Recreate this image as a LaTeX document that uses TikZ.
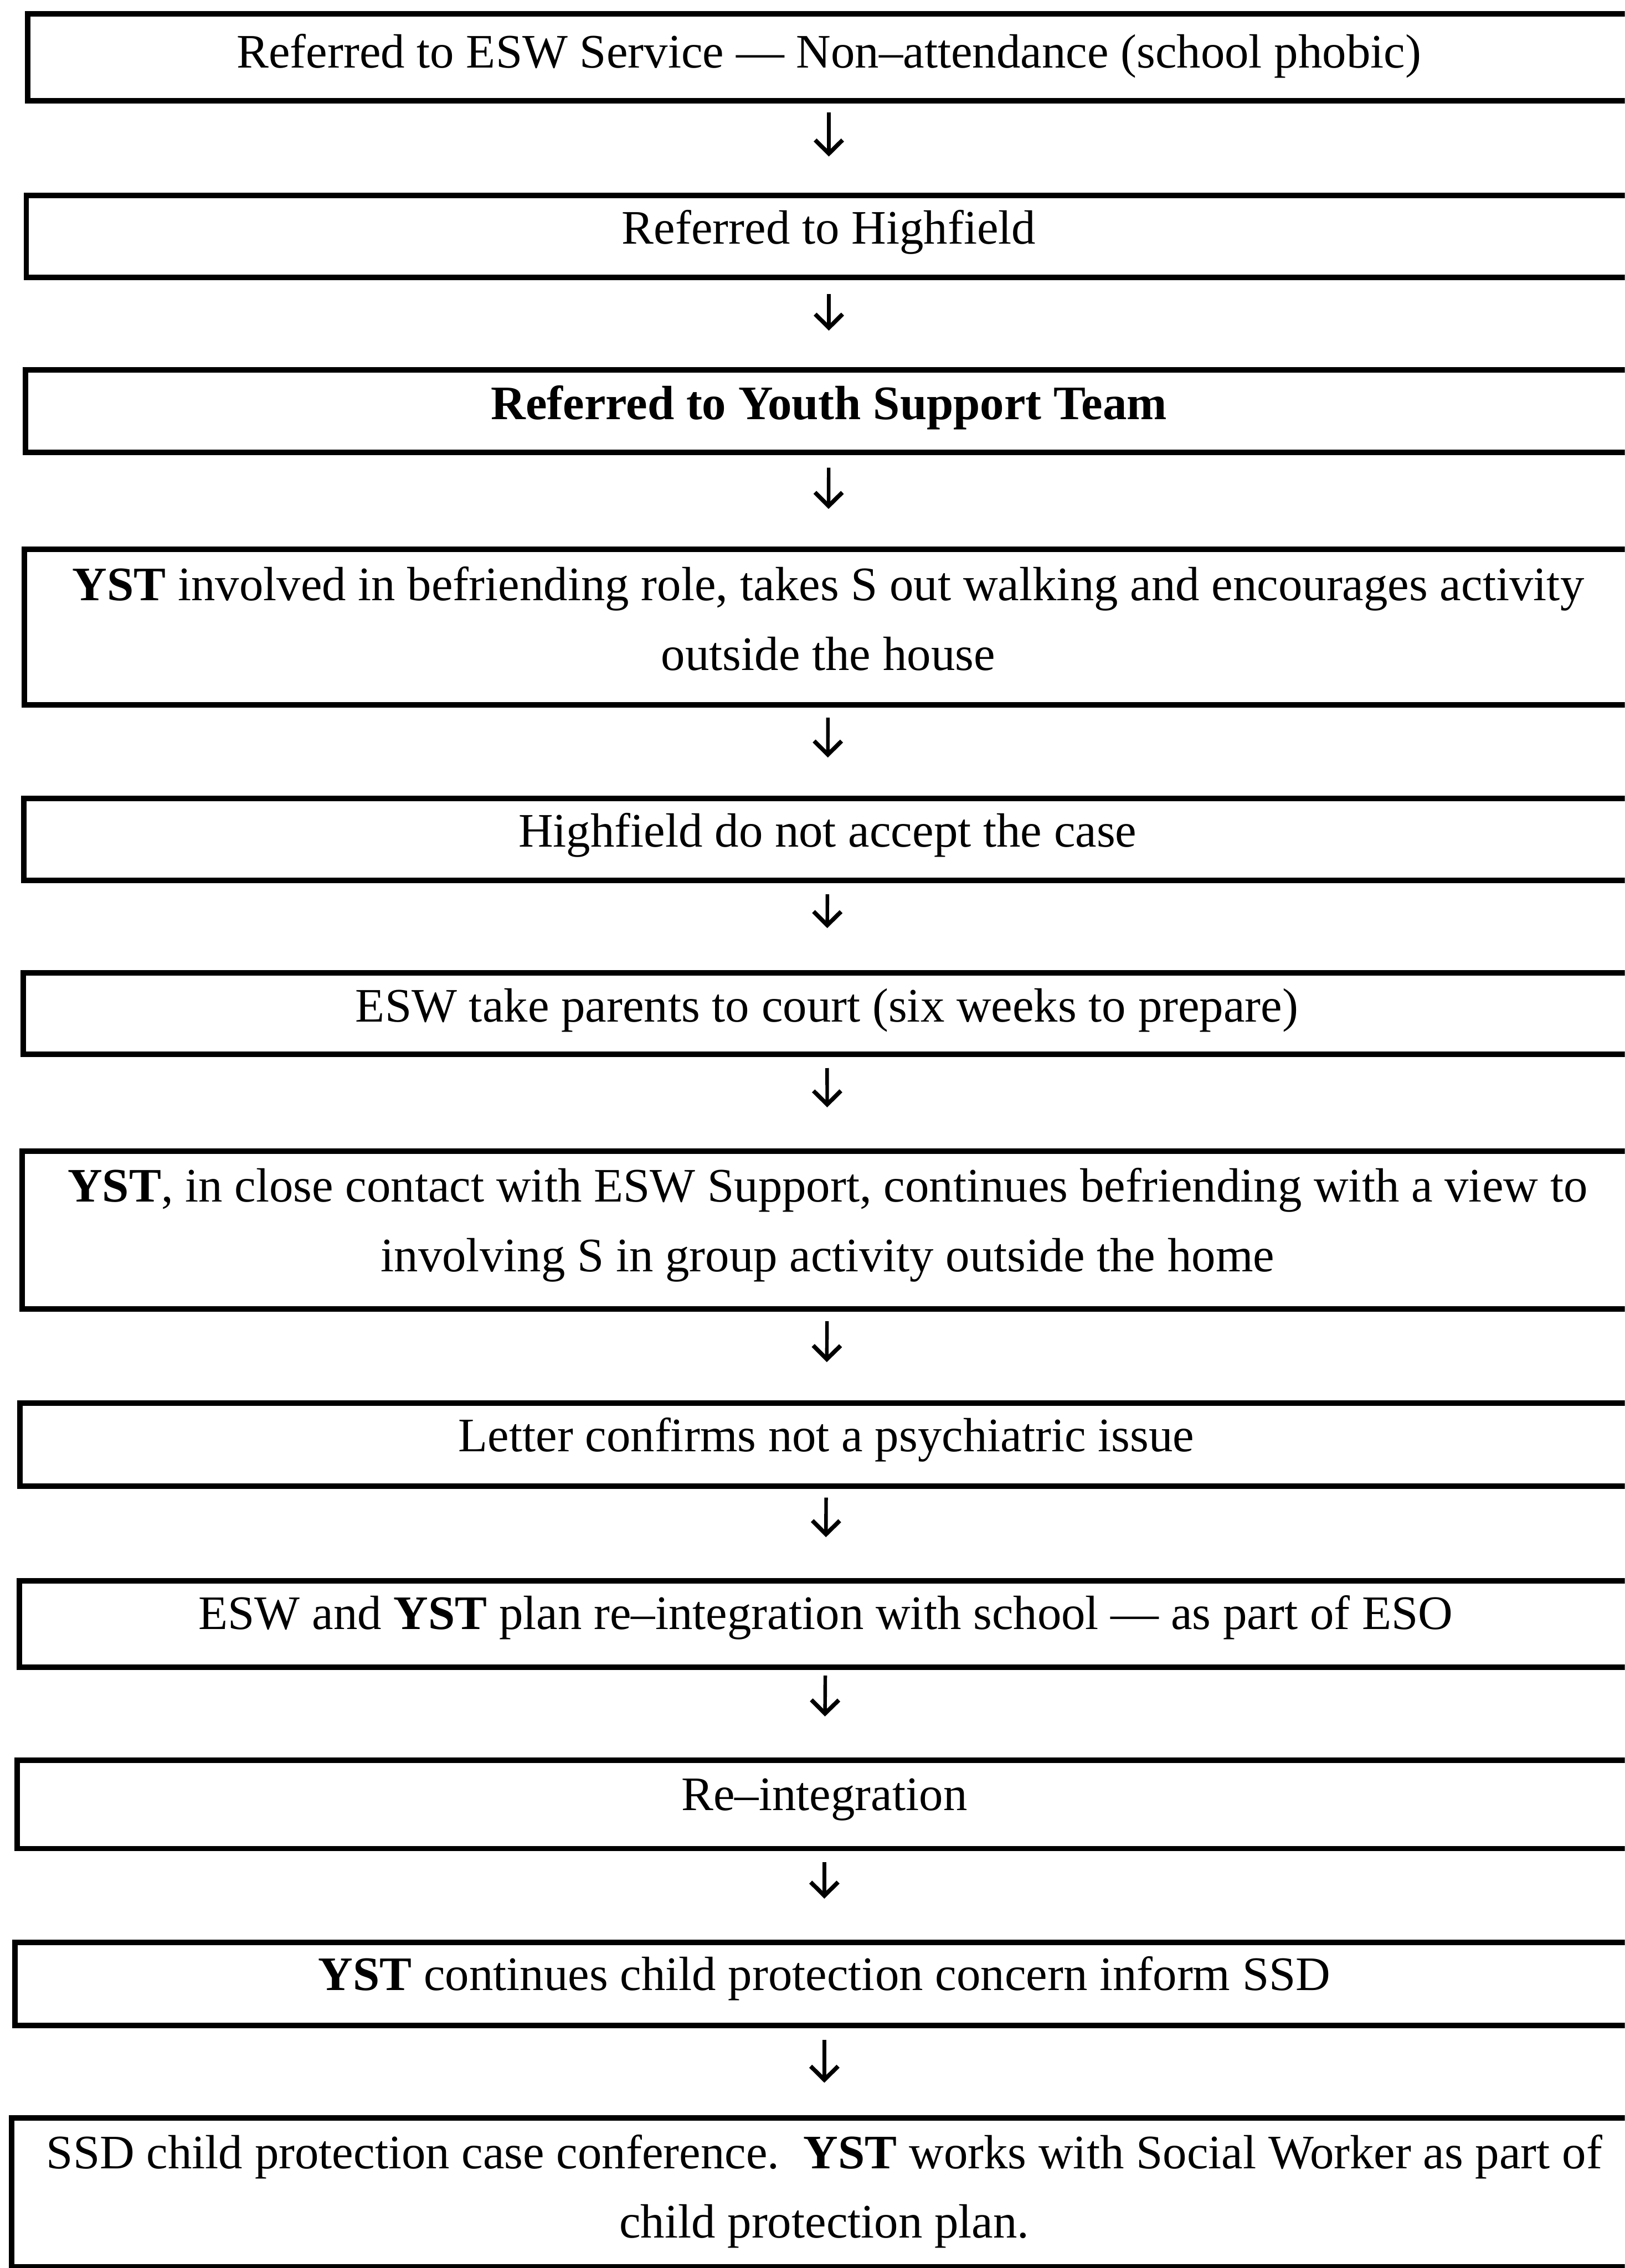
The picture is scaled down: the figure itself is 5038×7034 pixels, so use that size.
\documentclass[tikz,border=0pt]{standalone}
\usepackage{fontspec}
\setmainfont{Liberation Serif}
\usetikzlibrary{arrows.meta}
\newcommand\firstline{\rule{0pt}{1.12cm}}
\newcommand\lastline[1]{\rule[-#1]{0pt}{#1}}
\begin{document}
\begin{tikzpicture}[x=0.01cm,y=-0.01cm,
  flowbox/.style={draw, line width=0.17cm, inner sep=0pt, align=center,
    font=\fontsize{42.4pt}{61.2pt}\selectfont},
  flowarrow/.style={line width=0.11cm, -{Straight Barb[length=0.42cm,width=0.85cm,line width=0.13cm]}}]
\useasboundingbox (0,0) rectangle (5038,7034);
\clip (0,0) rectangle (5038,7034);

\node[flowbox, minimum width=49.66cm, minimum height=2.69cm] (b1) at (2570,177.5)
  {\firstline Referred to ESW Service — Non–attendance (school phobic)\lastline{0.45cm}};
\node[flowbox, minimum width=49.74cm, minimum height=2.55cm] (b2) at (2570,733.5)
  {\firstline Referred to Highfield\lastline{0.67cm}};
\node[flowbox, minimum width=49.80cm, minimum height=2.56cm] (b3) at (2570,1275)
  {\firstline\textbf{Referred to Youth Support Team}\lastline{0.62cm}};
\node[flowbox, minimum width=49.82cm, minimum height=4.83cm] (b4) at (2568,1944.5)
  {\firstline\textbf{YST} involved in befriending role, takes S out walking and encourages activity\\outside the house\lastline{0.60cm}};
\node[flowbox, minimum width=49.82cm, minimum height=2.55cm] (b5) at (2566,2603.5)
  {\firstline Highfield do not accept the case\lastline{0.67cm}};
\node[flowbox, minimum width=49.82cm, minimum height=2.53cm] (b6) at (2564,3143.5)
  {\firstline ESW take parents to court (six weeks to prepare)\lastline{0.61cm}};
\node[flowbox, minimum width=49.92cm, minimum height=4.89cm] (b7) at (2566,3814.5)
  {\firstline\textbf{YST}, in close contact with ESW Support, continues befriending with a view to\\involving S in group activity outside the home\lastline{0.70cm}};
\node[flowbox, minimum width=49.96cm, minimum height=2.58cm] (b8) at (2562,4480)
  {\firstline Letter confirms not a psychiatric issue\lastline{0.70cm}};
\node[flowbox, minimum width=49.98cm, minimum height=2.67cm] (b9) at (2560,5036.5)
  {\firstline ESW and \textbf{YST} plan re–integration with school — as part of ESO\lastline{0.79cm}};
\node[flowbox, minimum width=50.04cm, minimum height=2.74cm] (b10) at (2556,5596)
  {\firstline Re–integration\lastline{0.76cm}};
\node[flowbox, minimum width=50.16cm, minimum height=2.57cm] (b11) at (2556,6152.5)
  {\firstline\textbf{YST} continues child protection concern inform SSD\lastline{0.71cm}};
\node[flowbox, minimum width=50.36cm, minimum height=4.62cm] (b12) at (2556,6799)
  {\firstline SSD child protection case conference.\ \ \textbf{YST} works with Social Worker as part of\\child protection plan.\lastline{0.45cm}};

\draw[flowarrow, shorten <=0.28cm, shorten >=1.12cm] (b1) -- (b2);
\draw[flowarrow, shorten <=0.43cm, shorten >=1.13cm] (b2) -- (b3);
\draw[flowarrow, shorten <=0.39cm, shorten >=1.16cm] (b3) -- (b4);
\draw[flowarrow, shorten <=0.31cm, shorten >=1.18cm] (b4) -- (b5);
\draw[flowarrow, shorten <=0.34cm, shorten >=1.30cm] (b5) -- (b6);
\draw[flowarrow, shorten <=0.34cm, shorten >=1.27cm] (b6) -- (b7);
\draw[flowarrow, shorten <=0.30cm, shorten >=1.18cm] (b7) -- (b8);
\draw[flowarrow, shorten <=0.27cm, shorten >=1.27cm] (b8) -- (b9);
\draw[flowarrow, shorten <=0.18cm, shorten >=1.27cm] (b9) -- (b10);
\draw[flowarrow, shorten <=0.34cm, shorten >=1.27cm] (b10) -- (b11);
\draw[flowarrow, shorten <=0.37cm, shorten >=1.00cm] (b11) -- (b12);
\end{tikzpicture}
\end{document}
